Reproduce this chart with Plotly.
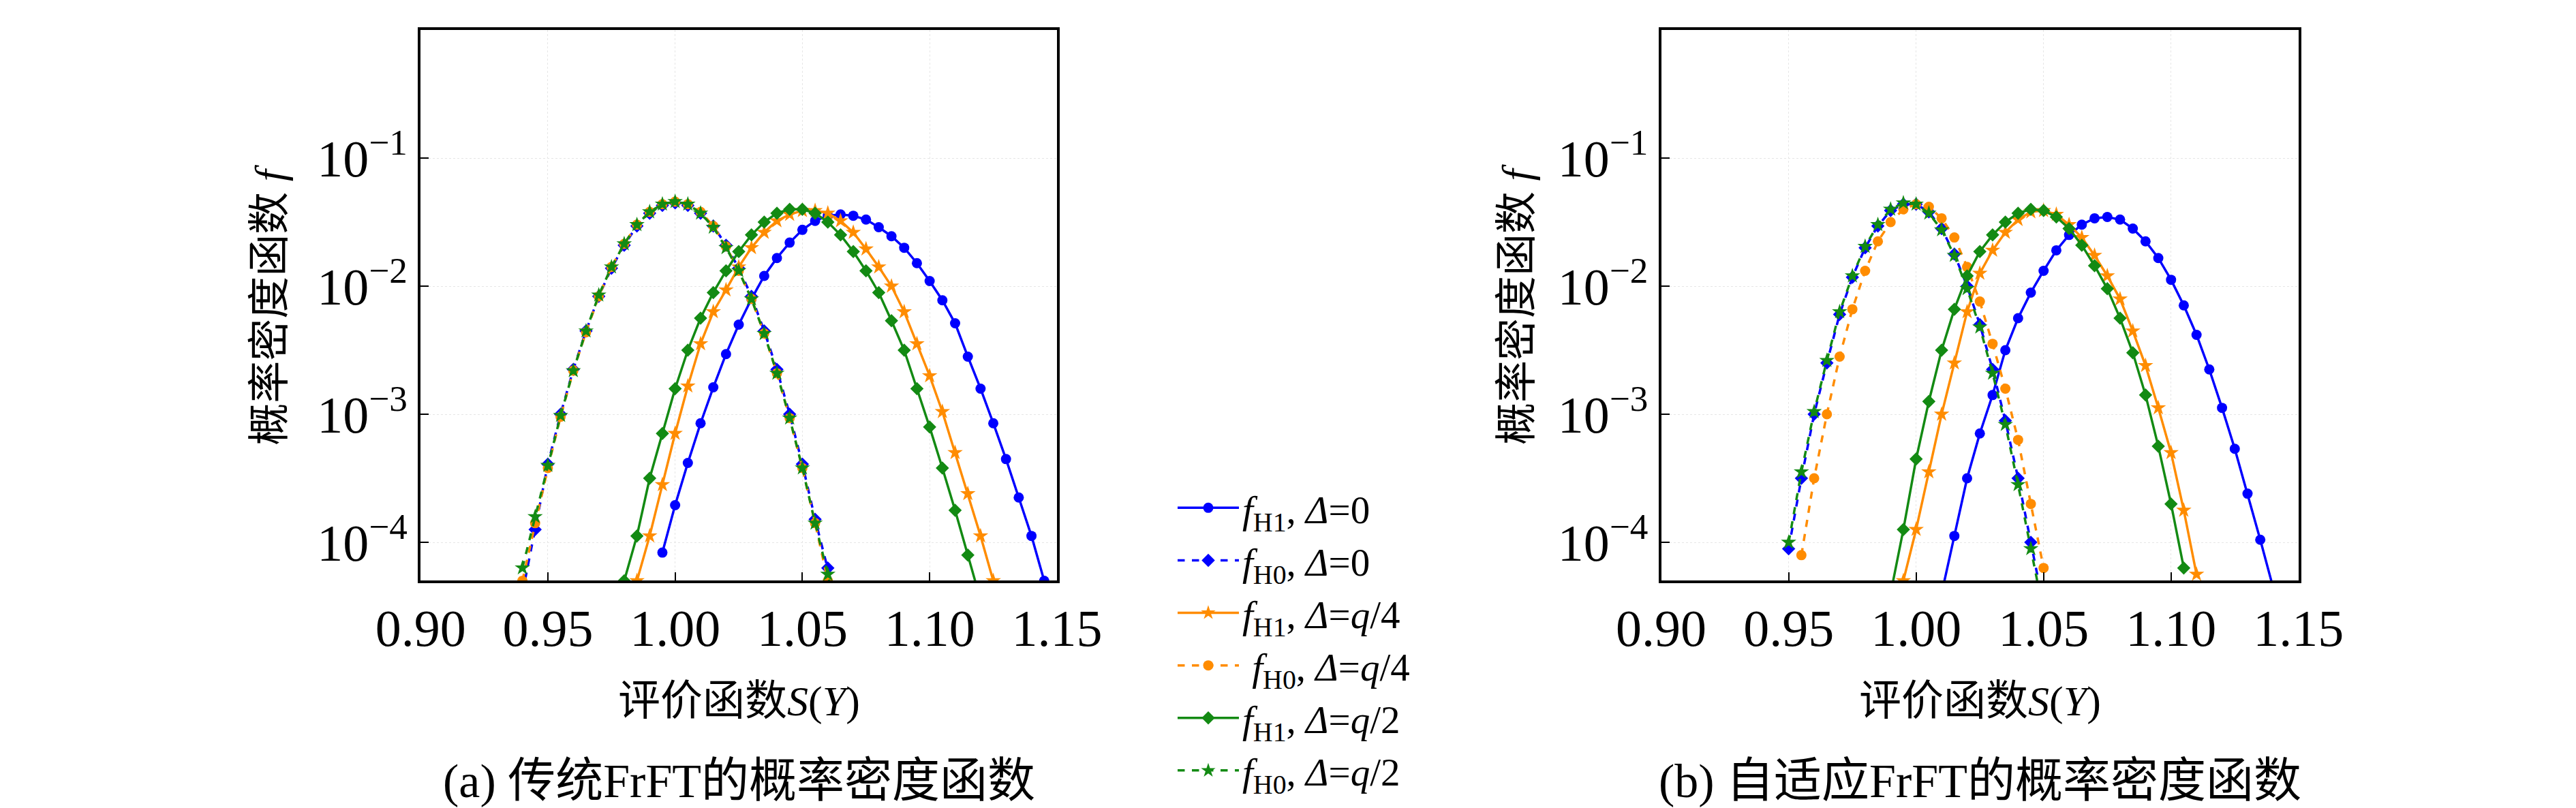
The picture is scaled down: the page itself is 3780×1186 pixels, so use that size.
import numpy as np
import plotly.graph_objects as go

# ---- data: log10 of density ----
# (a) conventional FrFT
a_h1_d0_x = [0.995, 1.000, 1.005, 1.010, 1.015, 1.020, 1.025, 1.030, 1.035, 1.040, 1.045, 1.050, 1.055, 1.060, 1.065, 1.070,
             1.075, 1.080, 1.085, 1.090, 1.095, 1.100, 1.105, 1.110, 1.115, 1.120, 1.125, 1.130, 1.135, 1.140, 1.145]
a_h1_d0_y = [-4.08, -3.71, -3.38, -3.07, -2.79, -2.53, -2.30, -2.10, -1.92, -1.78, -1.66, -1.56, -1.49, -1.45, -1.44, -1.45,
             -1.48, -1.54, -1.61, -1.70, -1.82, -1.96, -2.11, -2.29, -2.55, -2.80, -3.07, -3.35, -3.65, -3.95, -4.30]
a_h0_x = [0.940, 0.945, 0.950, 0.955, 0.960, 0.965, 0.970, 0.975, 0.980, 0.985, 0.990, 0.995, 1.000,
          1.005, 1.010, 1.015, 1.020, 1.025, 1.030, 1.035, 1.040, 1.045, 1.050, 1.055, 1.060, 1.065]
a_h0_d0_y = [-4.40, -3.90, -3.39, -3.00, -2.65, -2.35, -2.08, -1.86, -1.68, -1.53, -1.43, -1.37, -1.35,
             -1.37, -1.43, -1.53, -1.68, -1.86, -2.08, -2.35, -2.65, -3.00, -3.39, -3.82, -4.20, -4.60]
a_h0_q4_y = [-4.30, -3.85, -3.42, -3.02, -2.66, -2.36, -2.08, -1.85, -1.67, -1.52, -1.42, -1.36, -1.34,
             -1.36, -1.42, -1.53, -1.69, -1.88, -2.10, -2.37, -2.68, -3.03, -3.42, -3.85, -4.30, -4.70]
a_h0_q2_y = [-4.20, -3.80, -3.40, -3.01, -2.66, -2.35, -2.07, -1.85, -1.67, -1.52, -1.42, -1.36, -1.34,
             -1.36, -1.43, -1.54, -1.70, -1.88, -2.10, -2.37, -2.68, -3.03, -3.42, -3.85, -4.25, -4.70]
a_h1_q4_x = [0.985, 0.990, 0.995, 1.000, 1.005, 1.010, 1.015, 1.020, 1.025, 1.030, 1.035, 1.040, 1.045, 1.050, 1.055,
             1.060, 1.065, 1.070, 1.075, 1.080, 1.085, 1.090, 1.095, 1.100, 1.105, 1.110, 1.115, 1.120, 1.125]
a_h1_q4_y = [-4.30, -3.95, -3.55, -3.15, -2.78, -2.45, -2.20, -2.03, -1.85, -1.70, -1.58, -1.49, -1.44, -1.41, -1.41,
             -1.43, -1.49, -1.58, -1.71, -1.85, -2.00, -2.20, -2.45, -2.70, -2.98, -3.30, -3.62, -3.95, -4.30]
a_h1_q2_x = [0.980, 0.985, 0.990, 0.995, 1.000, 1.005, 1.010, 1.015, 1.020, 1.025, 1.030, 1.035, 1.040, 1.045, 1.050,
             1.055, 1.060, 1.065, 1.070, 1.075, 1.080, 1.085, 1.090, 1.095, 1.100, 1.105, 1.110, 1.115, 1.120]
a_h1_q2_y = [-4.30, -3.95, -3.50, -3.15, -2.80, -2.50, -2.25, -2.05, -1.88, -1.73, -1.60, -1.50, -1.43, -1.40, -1.40,
             -1.43, -1.50, -1.60, -1.73, -1.88, -2.05, -2.27, -2.50, -2.80, -3.10, -3.42, -3.75, -4.10, -4.45]

# (b) adaptive FrFT
b_h1_d0_x = [1.010, 1.015, 1.020, 1.025, 1.030, 1.035, 1.040, 1.045, 1.050, 1.055, 1.060, 1.065, 1.070, 1.075,
             1.080, 1.085, 1.090, 1.095, 1.100, 1.105, 1.110, 1.115, 1.120, 1.125, 1.130, 1.135, 1.140]
b_h1_d0_y = [-4.40, -3.95, -3.50, -3.15, -2.85, -2.50, -2.25, -2.05, -1.88, -1.72, -1.60, -1.52, -1.47, -1.46,
             -1.48, -1.55, -1.65, -1.78, -1.95, -2.15, -2.38, -2.65, -2.95, -3.27, -3.62, -3.98, -4.35]
b_h0_x = [0.950, 0.955, 0.960, 0.965, 0.970, 0.975, 0.980, 0.985, 0.990, 0.995, 1.000,
          1.005, 1.010, 1.015, 1.020, 1.025, 1.030, 1.035, 1.040, 1.045, 1.050]
b_h0_d0_y = [-4.05, -3.50, -3.00, -2.60, -2.22, -1.93, -1.70, -1.53, -1.41, -1.36, -1.36,
             -1.42, -1.55, -1.75, -2.00, -2.30, -2.65, -3.05, -3.50, -4.00, -4.50]
b_h0_q2_y = [-4.00, -3.45, -2.98, -2.58, -2.20, -1.92, -1.69, -1.52, -1.40, -1.35, -1.36,
             -1.43, -1.56, -1.76, -2.02, -2.32, -2.68, -3.08, -3.55, -4.05, -4.55]
b_h0_q4_x = [0.955, 0.960, 0.965, 0.970, 0.975, 0.980, 0.985, 0.990, 0.995, 1.000,
             1.005, 1.010, 1.015, 1.020, 1.025, 1.030, 1.035, 1.040, 1.045, 1.050]
b_h0_q4_y = [-4.10, -3.50, -3.00, -2.55, -2.18, -1.88, -1.65, -1.50, -1.40, -1.36,
             -1.38, -1.47, -1.62, -1.85, -2.12, -2.45, -2.80, -3.20, -3.70, -4.20]
b_h1_q4_x = [0.995, 1.000, 1.005, 1.010, 1.015, 1.020, 1.025, 1.030, 1.035, 1.040, 1.045, 1.050, 1.055, 1.060,
             1.065, 1.070, 1.075, 1.080, 1.085, 1.090, 1.095, 1.100, 1.105, 1.110]
b_h1_q4_y = [-4.30, -3.90, -3.45, -3.00, -2.60, -2.20, -1.90, -1.72, -1.58, -1.48, -1.42, -1.41, -1.44, -1.52,
             -1.62, -1.76, -1.92, -2.10, -2.35, -2.62, -2.95, -3.30, -3.75, -4.25]
b_h1_q2_x = [0.990, 0.995, 1.000, 1.005, 1.010, 1.015, 1.020, 1.025, 1.030, 1.035, 1.040, 1.045, 1.050, 1.055,
             1.060, 1.065, 1.070, 1.075, 1.080, 1.085, 1.090, 1.095, 1.100, 1.105]
b_h1_q2_y = [-4.40, -3.90, -3.35, -2.90, -2.50, -2.18, -1.92, -1.73, -1.60, -1.50, -1.43, -1.40, -1.41, -1.46,
             -1.55, -1.68, -1.84, -2.02, -2.25, -2.52, -2.85, -3.25, -3.70, -4.20]

names = ["<i>f</i><sub>H1</sub>, <i>Δ</i>=0", "<i>f</i><sub>H0</sub>, <i>Δ</i>=0",
         "<i>f</i><sub>H1</sub>, <i>Δ</i>=<i>q</i>/4", " <i>f</i><sub>H0</sub>, <i>Δ</i>=<i>q</i>/4",
         "<i>f</i><sub>H1</sub>, <i>Δ</i>=<i>q</i>/2", "<i>f</i><sub>H0</sub>, <i>Δ</i>=<i>q</i>/2"]
BLUE, ORANGE, GREEN = "#0000ff", "#ff8c00", "#138a13"
styles = [(BLUE, "solid", "circle"), (BLUE, "dash", "diamond"),
          (ORANGE, "solid", "star"), (ORANGE, "dash", "circle"),
          (GREEN, "solid", "diamond"), (GREEN, "dash", "star")]

panel_a = [(a_h1_d0_x, a_h1_d0_y), (a_h0_x, a_h0_d0_y), (a_h1_q4_x, a_h1_q4_y),
           (a_h0_x, a_h0_q4_y), (a_h1_q2_x, a_h1_q2_y), (a_h0_x, a_h0_q2_y)]
panel_b = [(b_h1_d0_x, b_h1_d0_y), (b_h0_x, b_h0_d0_y), (b_h1_q4_x, b_h1_q4_y),
           (b_h0_q4_x, b_h0_q4_y), (b_h1_q2_x, b_h1_q2_y), (b_h0_x, b_h0_q2_y)]

fig = go.Figure()
for k, panel in enumerate([panel_a, panel_b]):
    for i, (xs, ys) in enumerate(panel):
        col, dash, sym = styles[i]
        fig.add_trace(go.Scatter(
            x=xs, y=10 ** np.array(ys), mode="lines+markers", name=names[i],
            line=dict(color=col, width=3.5, dash=dash),
            marker=dict(symbol=sym, size=15 if sym != "star" else 17, color=col),
            xaxis="x" if k == 0 else "x2", yaxis="y" if k == 0 else "y2",
            showlegend=(k == 0)))

FONT = "Liberation Serif"
ytv = [1, 0.1, 0.01, 0.001, 0.0001]
ytt = ["1", "10<sup>−1</sup>", "10<sup>−2</sup>", "10<sup>−3</sup>", "10<sup>−4</sup>"]
xax = dict(range=[0.9, 1.15], tickvals=[0.90, 0.95, 1.00, 1.05, 1.10, 1.15],
           ticktext=["0.90", "0.95", "1.00", "1.05", "1.10", "1.15"],
           ticks="inside", ticklen=12, tickwidth=2, tickcolor="black",
           showline=True, linecolor="black", linewidth=4, mirror=True,
           showgrid=True, gridcolor="#e6e6e6", griddash="dot", zeroline=False,
           tickfont=dict(size=76, family=FONT, color="black"))
yax = dict(type="log", range=[-4.3, 0], tickvals=ytv, ticktext=ytt,
           ticks="inside", ticklen=12, tickwidth=2, tickcolor="black",
           showline=True, linecolor="black", linewidth=4, mirror=True,
           showgrid=True, gridcolor="#e6e6e6", griddash="dot", zeroline=False,
           tickfont=dict(size=76, family=FONT, color="black"))

fig.update_layout(
    width=3780, height=1186, margin=dict(l=0, r=0, t=0, b=0),
    paper_bgcolor="white", plot_bgcolor="white",
    xaxis=dict(xax, domain=[0.1487, 0.4048], anchor="y"),
    yaxis=dict(yax, domain=[0.288, 0.9696], anchor="x"),
    xaxis2=dict(xax, domain=[0.648, 0.9045], anchor="y2"),
    yaxis2=dict(yax, domain=[0.288, 0.9696], anchor="x2"),
    legend=dict(x=0.452, y=0.415, xanchor="left", yanchor="top",
                font=dict(size=57, family=FONT, color="black"),
                bgcolor="rgba(0,0,0,0)", itemwidth=90, tracegroupgap=0),
)

CJK = "Noto Sans CJK SC"
for xc, ylab_x, cap in [(0.2768, 0.088, "(a) 传统FrFT的概率密度函数"),
                        (0.7763, 0.590, "(b) 自适应FrFT的概率密度函数")]:
    fig.add_annotation(x=xc, y=1 - 1021 / 1186, xref="paper", yref="paper", showarrow=False,
                       xanchor="center", yanchor="middle",
                       text="评价函数<i>S</i>(<i>Y</i>)",
                       font=dict(size=62, family=f"{FONT}, {CJK}", color="black"))
    fig.add_annotation(x=xc, y=1 - 1138 / 1186, xref="paper", yref="paper", showarrow=False,
                       xanchor="center", yanchor="middle",
                       text=cap, font=dict(size=70, family=f"{FONT}, {CJK}", color="black"))
    fig.add_annotation(x=ylab_x, y=0.63, xref="paper", yref="paper", showarrow=False,
                       xanchor="center", yanchor="middle",
                       text="概率密度函数 <i>f</i>", textangle=-90,
                       font=dict(size=62, family=f"{FONT}, {CJK}", color="black"))

fig.write_html("out.html")
